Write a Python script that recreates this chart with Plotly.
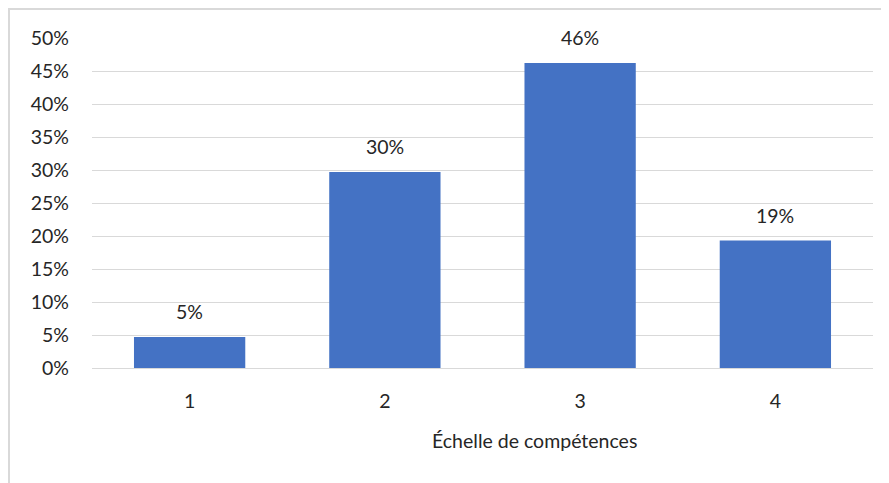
import plotly.graph_objects as go

categories = ["1", "2", "3", "4"]
values = [0.047, 0.297, 0.462, 0.193]
tick_vals = [0, 0.05, 0.10, 0.15, 0.20, 0.25, 0.30, 0.35, 0.40, 0.45, 0.50]
tick_text = ["0%", "5%", "10%", "15%", "20%", "25%", "30%", "35%", "40%", "45%", "50%"]
x_title = "Échelle de compétences"

FONT = "Lato"
FS = 19.5
W, H = 881, 475
L, R, T, B = 84, 16, 30, 115
pw, ph = W - L - R, H - T - B

fig = go.Figure(go.Bar(
    x=categories, y=values,
    marker=dict(color="#4472C4", line=dict(width=0)),
    hoverinfo="x+y",
))
for i, v in enumerate(values):
    fig.add_annotation(x=i, y=v, xref="x", yref="y", text=f"{round(v * 100)}%",
                       showarrow=False, yanchor="bottom", yshift=12,
                       font=dict(family=FONT, size=FS, color="#262626"))
# axis title (offset to the right of centre, as in the source)
fig.add_annotation(x=(534 - 92) / pw, y=-72 / ph, xref="paper", yref="paper",
                   text=x_title, showarrow=False, xanchor="center", yanchor="middle",
                   font=dict(family=FONT, size=FS, color="#262626"))
fig.update_layout(
    width=W, height=H,
    margin=dict(l=L, r=R, t=T, b=B),
    paper_bgcolor="white", plot_bgcolor="white",
    bargap=0.43, showlegend=False,
    font=dict(family=FONT, size=FS, color="#262626"),
    xaxis=dict(type="category",
               showgrid=False, showline=False, ticks="",
               ticklabelstandoff=19, tickfont=dict(size=FS)),
    yaxis=dict(range=[0, 0.5], tickvals=tick_vals, ticktext=tick_text,
               showgrid=True, gridcolor="#D9D9D9", gridwidth=1,
               zeroline=True, zerolinecolor="#D9D9D9", zerolinewidth=1,
               showline=False, ticks="", ticklabelstandoff=22,
               tickfont=dict(size=FS)),
    shapes=[dict(type="rect", xref="paper", yref="paper",
                 x0=(1 - L) / pw, x1=(W - L + 20) / pw,
                 y0=-(B + 20) / ph, y1=1 + (T - 1) / ph,
                 line=dict(color="#D9D9D9", width=2), layer="below")],
)
fig.write_html("out.html")
